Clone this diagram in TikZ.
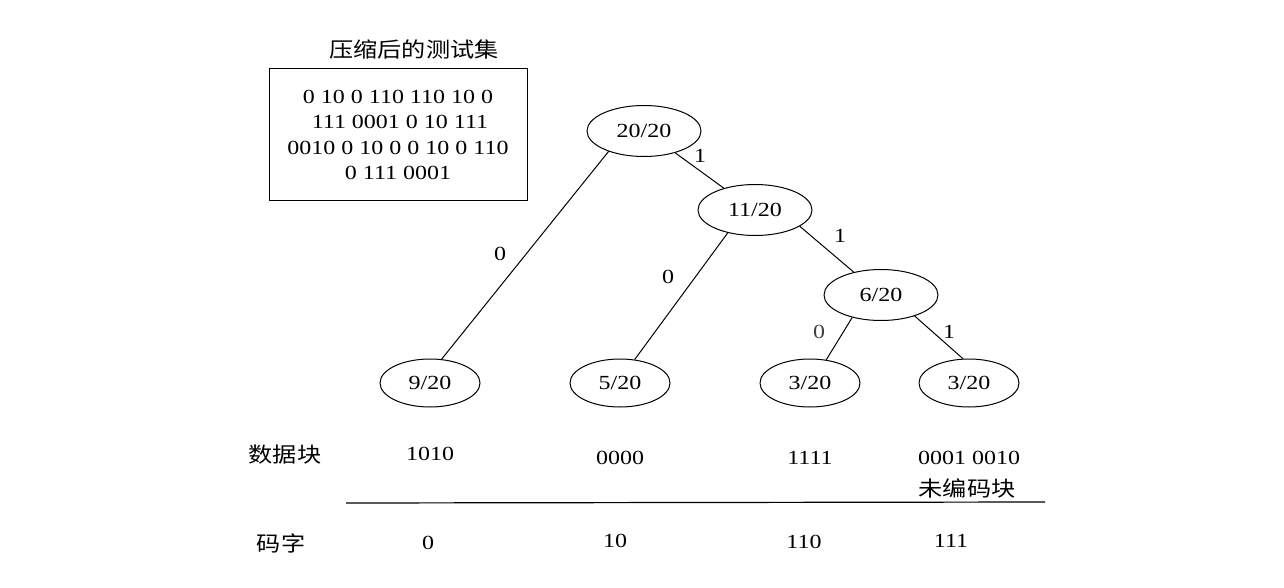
\documentclass[tikz,border=0pt]{standalone}
\usepackage{fontspec}
\setmainfont{Liberation Serif}[FakeStretch=1.2]
\newfontfamily\cjk{Noto Sans CJK SC}[FakeStretch=1.15]
\usetikzlibrary{shapes.geometric}
\begin{document}
\begin{tikzpicture}[x=1pt,y=-1pt,
  every node/.style={font=\fontsize{20}{24}\selectfont},
  big/.style={ellipse,draw,line width=1pt,minimum width=114pt,minimum height=51pt,inner sep=0pt},
  leaf/.style={ellipse,draw,line width=1pt,minimum width=100pt,minimum height=48pt,inner sep=0pt},
  edge/.style={line width=1pt},
  lbl/.style={inner sep=0pt},
  zh/.style={inner sep=0pt,font=\cjk\fontsize{21}{25}\selectfont}]
\useasboundingbox (0,0) rectangle (1284,588);
% compressed test set
\node[zh] (title) at (414,50) {压缩后的测试集};
\node[draw,line width=1pt,minimum width=258pt,minimum height=131pt,inner sep=0pt] (box) at (398,134.5) {};
\node[lbl] (l1) at (398,97) {0 10 0 110 110 10 0};
\node[lbl] (l2) at (400,122) {111 0001 0 10 111};
\node[lbl] (l3) at (398,148) {0010 0 10 0 0 10 0 110};
\node[lbl] (l4) at (398,173) {0 111 0001};
% tree
\node[big] (root) at (644,131) {20/20};
\node[big] (n11) at (755,210) {11/20};
\node[big] (n6) at (881,295) {6/20};
\node[leaf] (a) at (430,383) {9/20};
\node[leaf] (b) at (620,383) {5/20};
\node[leaf] (c) at (810,383) {3/20};
\node[leaf] (d) at (969,383) {3/20};
\draw[edge] (root.210.7) -- (a.64.4);
\draw[edge] (root.-35.4) -- (n11.145.5);
\draw[edge] (n11.220.4) -- (b.58);
\draw[edge] (n11.-20.7) -- (n6.140.6);
\draw[edge] (n6.218) -- (c.55);
\draw[edge] (n6.-32.5) -- (d.104);
\node[lbl] (e1) at (700,156) {1};
\node[lbl] (e2) at (500,254) {0};
\node[lbl] (e3) at (840,236) {1};
\node[lbl] (e4) at (668,277) {0};
\node[lbl,text=black!75] (e5) at (819,332) {0};
\node[lbl] (e6) at (949,332) {1};
% table
\node[zh] (sj) at (285,455) {数据块};
\node[lbl] (d1) at (430,454) {1010};
\node[lbl] (d2) at (620,458) {0000};
\node[lbl] (d3) at (810,458) {1111};
\node[lbl] (d4) at (969,458) {0001 0010};
\node[zh] (wb) at (967,488) {未编码块};
\coordinate (hl) at (346,503);
\coordinate (hr) at (1045,502);
\draw[line width=1.2pt] (hl) -- (hr);
\node[zh] (mz) at (281,543) {码字};
\node[lbl] (c1) at (428,543) {0};
\node[lbl] (c2) at (615,541) {10};
\node[lbl] (c3) at (804,542) {110};
\node[lbl] (c4) at (951,541) {111};
\end{tikzpicture}
\end{document}
